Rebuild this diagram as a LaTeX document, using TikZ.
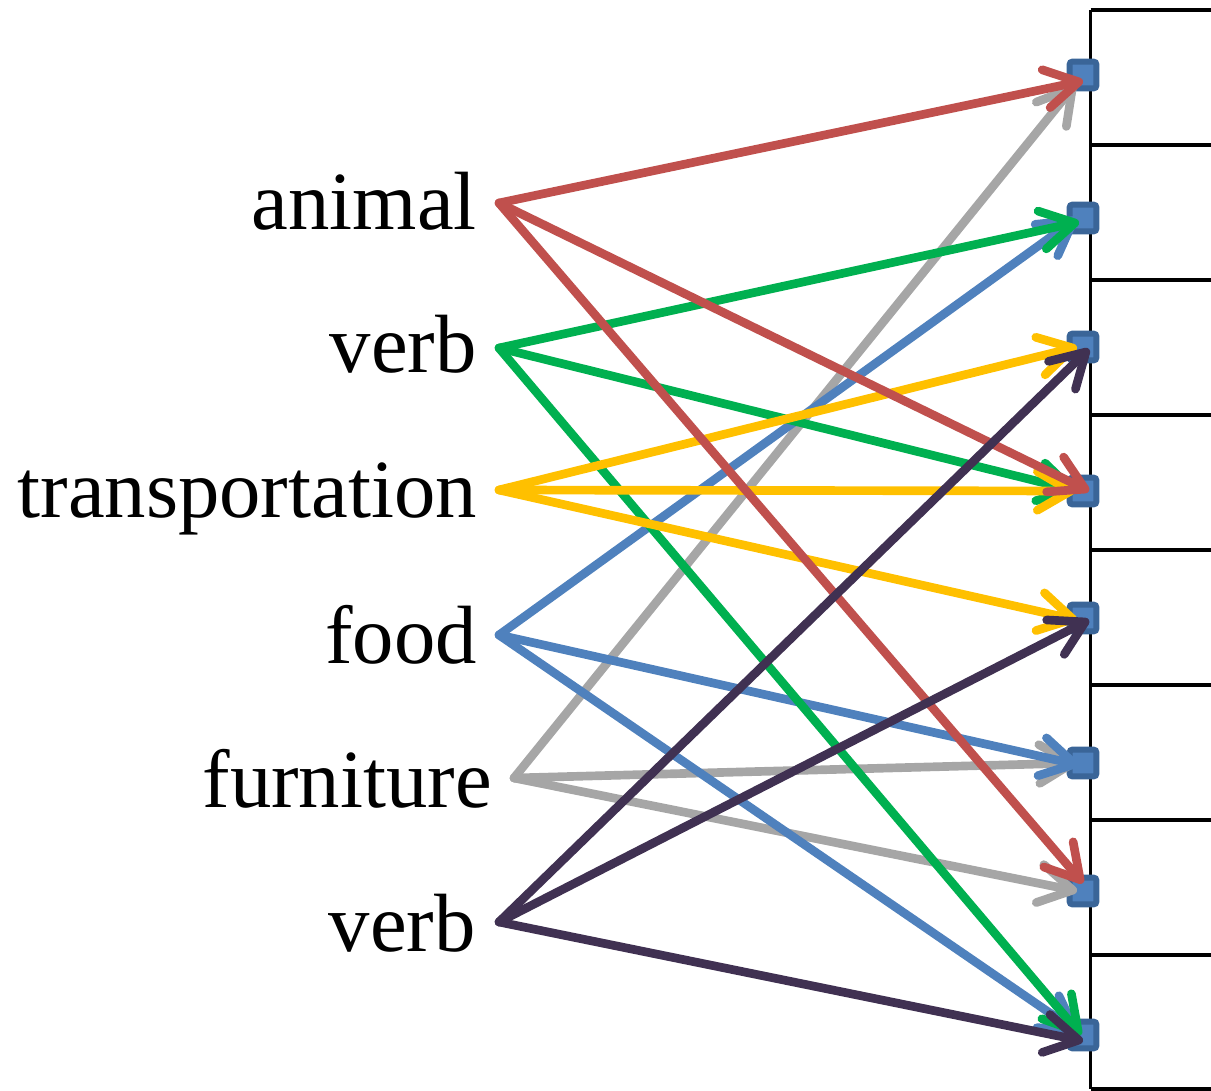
\documentclass[tikz,border=0pt]{standalone}
\usepackage{fontspec}
\setmainfont{Liberation Serif}
\usetikzlibrary{arrows.meta}
\definecolor{cred}{HTML}{C0504D}
\definecolor{cgreen}{HTML}{00B050}
\definecolor{cyellow}{HTML}{FFC000}
\definecolor{cblue}{HTML}{4F81BD}
\definecolor{cgray}{HTML}{A6A6A6}
\definecolor{cpurple}{HTML}{403152}
\definecolor{sqfill}{HTML}{4F81BD}
\definecolor{sqdraw}{HTML}{3A6598}
\begin{document}
\begin{tikzpicture}[x=0.75pt,y=-0.75pt,
  lbl/.style={anchor=base east,inner sep=0pt,font=\fontsize{62}{70}\selectfont},
  sq/.style={draw=sqdraw,fill=sqfill,line width=4.5pt,minimum size=20pt,inner sep=0pt,rounded corners=2pt},
  grid/.style={line width=2.6pt,black},
  conn/.style={line width=6.5pt,line cap=round,line join=miter,
    -{Straight Barb[length=25pt,width=29pt,line cap=round,line join=round]}}]
\useasboundingbox (0,0) rectangle (1211,1091);
% box column
\draw[grid] (1090.5,10) -- (1090.5,1089);
\foreach \yy in {10,145,280,415,550,685,820,955,1089}
  \draw[grid] (1090.5,\yy) -- (1211,\yy);
% labels
\node[lbl] (animal) at (477,230) {animal};
\node[lbl] (verbA) at (477,373) {verb};
\node[lbl] (trans) at (477,517) {transportation};
\node[lbl] (food) at (477,663) {food};
\node[lbl] (furn) at (492,807) {furniture};
\node[lbl] (verbB) at (476,951) {verb};
% start points
\coordinate (pA) at (499,203);
\coordinate (pV) at (499,348);
\coordinate (pT) at (499,490);
\coordinate (pF) at (499,635);
\coordinate (pU) at (514,778);
\coordinate (pW) at (499,922);
% squares
\node[sq] (s1) at (1083,75) {};
\node[sq] (s2) at (1083,218) {};
\node[sq] (s3) at (1083,347) {};
\node[sq] (s4) at (1083,491) {};
\node[sq] (s5) at (1083,618) {};
\node[sq] (s6) at (1083,763) {};
\node[sq] (s7) at (1083,891) {};
\node[sq] (s8) at (1083,1035) {};
% connectors
\draw[conn,cgray] (pU) -- ([shift={(-8,10)}]s1.center);
\draw[conn,cgray] (pU) -- ([shift={(-6,0)}]s6.center);
\draw[conn,cgray] (pU) -- ([shift={(-6,0)}]s7.center);
\draw[conn,cblue] (pF) -- ([shift={(-6,0)}]s2.center);
\draw[conn,cblue] (pF) -- ([shift={(-4,2)}]s6.center);
\draw[conn,cblue] (pF) -- ([shift={(-4,-2)}]s8.center);
\draw[conn,cgreen] (pV) -- ([shift={(-4,4)}]s2.center);
\draw[conn,cgreen] (pV) -- ([shift={(-6,0)}]s4.center);
\draw[conn,cgreen] (pV) -- ([shift={(-2,0)}]s8.center);
\draw[conn,cyellow] (pT) -- ([shift={(-6,0)}]s3.center);
\draw[conn,cyellow] (pT) -- ([shift={(-8,0)}]s4.center);
\draw[conn,cyellow] (pT) -- ([shift={(-6,2)}]s5.center);
\draw[conn,cred] (pA) -- ([shift={(0,6)}]s1.center);
\draw[conn,cred] (pA) -- ([shift={(6,0)}]s4.center);
\draw[conn,cred] (pA) -- ([shift={(0,-8)}]s7.center);
\draw[conn,cpurple] (pW) -- ([shift={(6,2)}]s3.center);
\draw[conn,cpurple] (pW) -- ([shift={(6,2)}]s5.center);
\draw[conn,cpurple] (pW) -- ([shift={(0,6)}]s8.center);
\end{tikzpicture}
\end{document}
